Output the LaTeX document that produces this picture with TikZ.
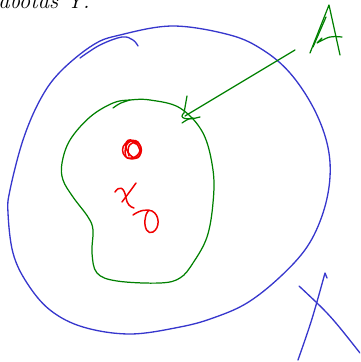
\documentclass[tikz,border=0pt]{standalone}
\begin{document}
\begin{tikzpicture}[x=0.02cm,y=-0.02cm,
  bluepen/.style={draw={rgb,255:red,55;green,55;blue,205}, line width=0.75pt, line cap=round, line join=round},
  greenpen/.style={draw={rgb,255:red,0;green,128;blue,0}, line width=0.7pt, line cap=round, line join=round},
  redpen/.style={draw={rgb,255:red,240;green,0;blue,0}, line width=0.85pt, line cap=round, line join=round}]
\useasboundingbox (0,0) rectangle (360,362);
\clip (0,0) rectangle (360,362);
% clipped caption
\node[anchor=base west, inner sep=0pt, font=\fontsize{13}{15}\selectfont\itshape] (cap) at (-2,8) {abotas Y.};
% outer blue set
\draw[bluepen] plot[smooth cycle, tension=0.6] coordinates {(60,72) (93,45) (120,35) (173,26) (230,35) (263,50) (290,73) (313,107) (327,143) (330,177) (323,213) (307,247) (280,277) (247,303) (213,318) (180,327) (130,334) (83,327) (50,310) (27,283) (13,253) (8,213) (10,190) (23,140) (40,100)};
\draw[bluepen] plot[smooth, tension=0.6] coordinates {(80,58) (100,45) (122,37) (133,40) (138,46)};
% inner green set
\draw[greenpen] plot[smooth cycle, tension=0.6] coordinates {(113,103) (130,100) (150,100) (180,108) (203,133) (213,170) (213,203) (207,237) (193,263) (180,278) (160,283) (117,281) (97,273) (92,253) (93,230) (88,217) (73,197) (63,180) (62,163) (70,140) (90,117)};
\draw[greenpen] (113,108) .. controls (120,103) .. (130,100);
% arrow from A
\coordinate (tail) at (295,50);
\coordinate (tip) at (185,116);
\draw[greenpen] (tail) -- (tip);
\draw[greenpen] (187,96) .. controls (186,104) .. (184,113) .. controls (178,118) and (186,121) .. (200,117);
\draw[greenpen] (182,123) .. controls (188,119) .. (193,118);
% letter A
\draw[greenpen] (310,53) -- (329,5) -- (340,55);
\draw[greenpen] (313,47) -- (326,17);
\draw[greenpen] (342,37) .. controls (330,36) .. (317,43) -- (322,38);
% letter X
\draw[bluepen] (299,286) .. controls (330,315) .. (360,353);
\draw[bluepen] (298,360) .. controls (312,320) .. (325,273) -- (327,278);
% red marks
\draw[redpen] (132,150) ellipse (9.5 and 9);
\draw[redpen, rotate around={30:(133,149)}] (133,149) ellipse (6 and 10);
\draw[redpen] (126,157) .. controls (122,144) and (132,137) .. (138,142) .. controls (144,149) and (138,160) .. (127,158);
\draw[redpen] (129,156) .. controls (126,147) and (131,140) .. (136,144);
\draw[redpen] (115,192) .. controls (119,186) and (124,186) .. (126,198) .. controls (127,204) and (130,207) .. (134,208);
\draw[redpen] (136,183) .. controls (131,190) .. (122,202);
\draw[redpen] (133,215) .. controls (140,210) and (147,209) .. (152,211) .. controls (160,215) and (160,228) .. (153,232) .. controls (148,235) and (144,228) .. (145,220) .. controls (146,214) .. (149,210);
\end{tikzpicture}
\end{document}
